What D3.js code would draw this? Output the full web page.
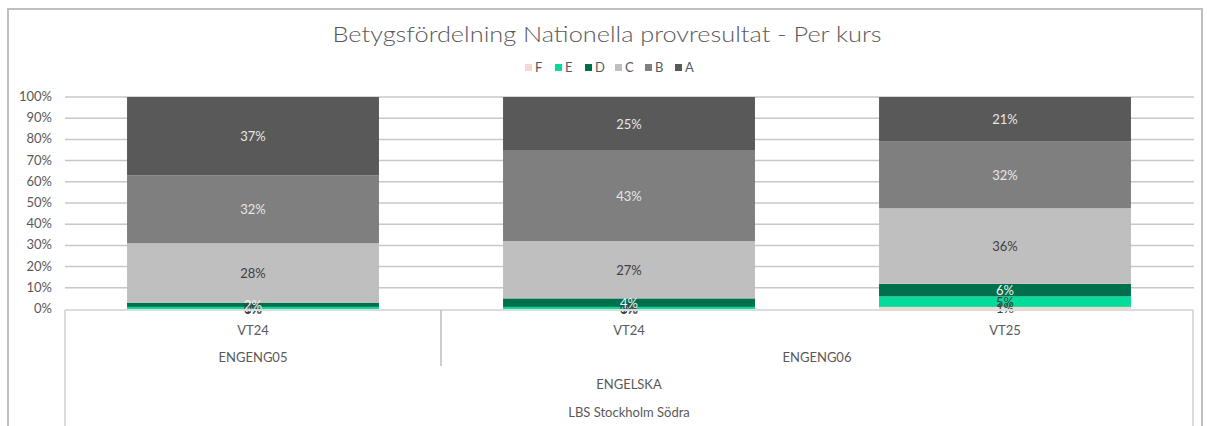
<!DOCTYPE html>
<html>
<head>
<meta charset="utf-8">
<script src="https://cdn.jsdelivr.net/npm/d3@7"></script>
<style>
  body { margin: 0; background: #fff; }
  text { font-family: "Century Gothic", "URW Gothic", Lato, sans-serif; }
</style>
</head>
<body>
<script>
// grades, bottom to top
var grades = ['F', 'E', 'D', 'C', 'B', 'A'];
var terms = ['VT24', 'VT24', 'VT25'];
var courses = ['ENGENG05', 'ENGENG06', 'ENGENG06'];
var valF = [0, 0, 1];
var valE = [1, 1, 5];
var valD = [2, 4, 6];
var valC = [28, 27, 36];
var valB = [32, 43, 32];
var valA = [37, 25, 21];
var yTicks = [0, 0.1, 0.2, 0.3, 0.4, 0.5, 0.6, 0.7, 0.8, 0.9, 1];

var colors = {F: '#f6d8cd', E: '#00dc9c', D: '#006f4b', C: '#bfbfbf', B: '#7f7f7f', A: '#595959'};
var labelColors = {F: '#404040', E: '#404040', D: '#f2f2f2', C: '#404040', B: '#e6e6e6', A: '#e6e6e6'};

var series = {F: valF, E: valE, D: valD, C: valC, B: valB, A: valA};

var W = 1207, H = 426;
var svg = d3.select('body').append('svg')
  .attr('width', W)
  .attr('height', H);

// chart frame
svg.append('path')
  .attr('d', 'M8,426 L8,9 L1202,9 L1202,426')
  .attr('fill', 'none')
  .attr('stroke', '#bfbfbf')
  .attr('stroke-width', 2);

svg.append('text')
  .attr('x', 607).attr('y', 42)
  .attr('text-anchor', 'middle')
  .attr('font-size', 21)
  .attr('font-weight', 300)
  .attr('fill', '#595959')
  .attr('textLength', 549)
  .attr('lengthAdjust', 'spacingAndGlyphs')
  .text('Betygsfördelning Nationella provresultat - Per kurs');

// legend
var legend = svg.append('g');
grades.forEach(function(g, i) {
  var lx = 525 + i * 30;
  legend.append('rect')
    .attr('x', lx).attr('y', 64).attr('width', 7).attr('height', 7)
    .attr('fill', colors[g]);
  legend.append('text')
    .attr('x', lx + 10).attr('y', 72)
    .attr('font-size', 13)
    .attr('fill', '#595959')
    .text(g);
});

var x = d3.scaleBand()
  .domain(d3.range(terms.length))
  .range([65, 1193])
  .paddingInner(0.33)
  .paddingOuter(0.165);
var y = d3.scaleLinear().domain([0, 1]).range([309, 97]);

// gridlines
svg.selectAll('.grid')
  .data(yTicks.slice(1))
  .enter().append('line')
  .attr('x1', 65).attr('x2', 1194)
  .attr('y1', function(d) { return y(d); })
  .attr('y2', function(d) { return y(d); })
  .attr('stroke', '#c8c8c8')
  .attr('stroke-width', 1.5);

svg.selectAll('.ytick')
  .data(yTicks)
  .enter().append('text')
  .attr('x', 52)
  .attr('y', function(d) { return y(d) + 4; })
  .attr('text-anchor', 'end')
  .attr('font-size', 13)
  .attr('fill', '#595959')
  .text(d3.format('.0%'));

// 100% stacked: normalise each column like the spreadsheet does
var stack = d3.stack().keys(grades).offset(d3.stackOffsetExpand);
var rows = terms.map(function(t, i) {
  var r = {};
  grades.forEach(function(g) { r[g] = series[g][i]; });
  return r;
});
var layers = stack(rows);

var gl = svg.selectAll('.layer')
  .data(layers)
  .enter().append('g')
  .attr('fill', function(d) { return colors[d.key]; });

gl.selectAll('rect')
  .data(function(d) { return d; })
  .enter().append('rect')
  .attr('x', function(d, i) { return x(i); })
  .attr('width', x.bandwidth())
  .attr('y', function(d) { return y(d[1]); })
  .attr('height', function(d) { return y(d[0]) - y(d[1]); });

// data labels (raw values)
layers.forEach(function(layer) {
  svg.selectAll(null)
    .data(layer)
    .enter().append('text')
    .attr('x', function(d, i) { return x(i) + x.bandwidth() / 2; })
    .attr('y', function(d) { return y((d[0] + d[1]) / 2) + 5; })
    .attr('text-anchor', 'middle')
    .attr('font-size', 13)
    .attr('fill', labelColors[layer.key])
    .text(function(d) { return d.data[layer.key] + '%'; });
});

// category axis box
var axisColor = '#d0d0d0';
svg.append('line').attr('x1', 65).attr('x2', 1193).attr('y1', 310).attr('y2', 310)
  .attr('stroke', '#dcdcdc').attr('stroke-width', 2);
svg.append('line').attr('x1', 65).attr('x2', 65).attr('y1', 310).attr('y2', 426)
  .attr('stroke', axisColor).attr('stroke-width', 1.5);
svg.append('line').attr('x1', 1193).attr('x2', 1193).attr('y1', 310).attr('y2', 426)
  .attr('stroke', axisColor).attr('stroke-width', 1.5);
svg.append('line').attr('x1', 441).attr('x2', 441).attr('y1', 310).attr('y2', 366)
  .attr('stroke', '#bcbcbc').attr('stroke-width', 1.5);

svg.selectAll('.term')
  .data(terms)
  .enter().append('text')
  .attr('x', function(d, i) { return x(i) + x.bandwidth() / 2; })
  .attr('y', 335)
  .attr('text-anchor', 'middle')
  .attr('font-size', 13)
  .attr('fill', '#595959')
  .text(function(d) { return d; });

// course groups
var courseGroups = [];
courses.forEach(function(c, i) {
  var last = courseGroups[courseGroups.length - 1];
  if (last && last.name === c) { last.end = i; }
  else { courseGroups.push({name: c, start: i, end: i}); }
});
svg.selectAll('.course')
  .data(courseGroups)
  .enter().append('text')
  .attr('x', function(d) {
    return (x(d.start) - x.step() * x.paddingInner() / 2 + x(d.end) + x.bandwidth() + x.step() * x.paddingInner() / 2) / 2;
  })
  .attr('y', 362)
  .attr('text-anchor', 'middle')
  .attr('font-size', 13)
  .attr('fill', '#595959')
  .text(function(d) { return d.name; });

svg.append('text')
  .attr('x', 629).attr('y', 389)
  .attr('text-anchor', 'middle')
  .attr('font-size', 13)
  .attr('fill', '#595959')
  .text('ENGELSKA');

svg.append('text')
  .attr('x', 629).attr('y', 417)
  .attr('text-anchor', 'middle')
  .attr('font-size', 13)
  .attr('fill', '#595959')
  .text('LBS Stockholm Södra');
</script>
</body>
</html>
